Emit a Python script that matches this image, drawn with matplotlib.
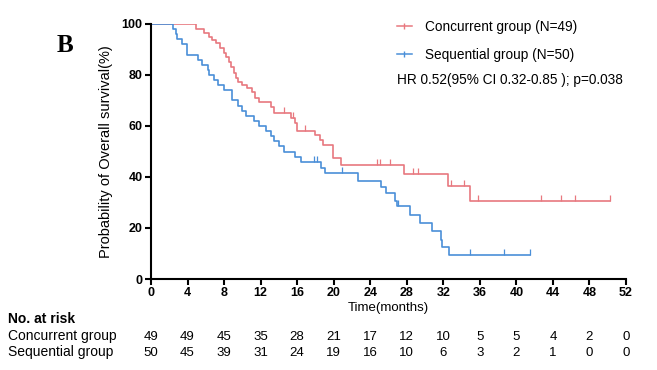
import numpy as np
import matplotlib
matplotlib.use('Agg')
import matplotlib.pyplot as plt
from matplotlib.lines import Line2D
from matplotlib import transforms

plt.rcParams['font.family'] = ['Liberation Sans', 'DejaVu Sans']

# Kaplan-Meier steps (months, survival %)
conc_times = [0, 4.9, 5.8, 6.3, 6.7, 7.1, 7.6, 8.0, 8.2, 8.5, 8.8, 9.1, 9.3, 9.5,
              10.0, 10.5, 11.1, 11.4, 11.8, 13.1, 13.5, 15.3, 15.8, 16.0, 18.0,
              18.5, 18.8, 19.9, 20.8, 27.7, 32.5, 34.9, 50.2]
conc_surv = [100, 97.9, 96.6, 95.0, 93.7, 92.4, 90.5, 88.5, 87.2, 85.2, 83.3, 80.7,
             78.7, 77.4, 76.1, 74.8, 73.5, 70.9, 69.5, 67.6, 65.0, 63.3, 61.0, 58.0,
             56.5, 54.5, 52.5, 47.3, 44.7, 41.0, 36.5, 30.5, 30.5]
conc_censor = [14.6, 15.5, 16.9, 24.7, 25.1, 26.2, 28.7, 29.2, 32.8, 34.3,
               35.8, 42.7, 44.9, 46.4, 50.2]

seq_times = [0, 2.4, 2.7, 2.9, 3.4, 3.9, 5.1, 5.6, 6.2, 6.4, 6.9, 7.3, 8.0, 8.9,
             9.5, 10.0, 10.4, 11.3, 11.8, 12.6, 13.1, 13.5, 14.0, 14.6, 15.8, 16.4,
             18.6, 19.1, 22.7, 25.2, 25.7, 26.7, 26.9, 28.3, 29.4, 30.8, 31.8, 31.9,
             32.6, 41.5]
seq_surv = [100, 98, 96, 94, 92, 88, 86, 84, 82, 80, 78, 76, 74, 70, 68, 66, 64, 62,
            60, 58, 56, 54, 52, 50, 48, 46, 43.4, 41.4, 38.6, 36.0, 33.6, 30.7, 28.6,
            25.1, 22.1, 19.0, 15.3, 12.7, 9.4, 9.4]
seq_censor = [17.8, 18.2, 20.9, 27.0, 34.9, 38.6, 41.5]

# numbers at risk
risk_times = [0, 4, 8, 12, 16, 20, 24, 28, 32, 36, 40, 44, 48, 52]
risk_conc = [49, 49, 45, 35, 28, 21, 17, 12, 10, 5, 5, 4, 2, 0]
risk_seq = [50, 45, 39, 31, 24, 19, 16, 10, 6, 3, 2, 1, 0, 0]

red = '#E8787F'
blue = '#4A8FD8'


def surv_at(times, surv, t):
    # value of the step function at time t
    idx = np.searchsorted(times, t, side='right') - 1
    return np.array(surv)[idx]


fig = plt.figure(figsize=(6.57, 3.70), dpi=100)
ax = fig.add_axes([151 / 657, 1 - 279 / 370, 475 / 657, 255 / 370])

for times, surv, cens, color in [(conc_times, conc_surv, conc_censor, red),
                                 (seq_times, seq_surv, seq_censor, blue)]:
    ax.step(times, surv, where='post', color=color, lw=1.2)
    ax.plot(cens, surv_at(times, surv, cens), ls='none', marker=2,
            ms=4, mew=0.9, color=color)

ax.set_xlim(0, 52)
ax.set_ylim(0, 100)
ax.set_xticks(risk_times)
ax.set_yticks([0, 20, 40, 60, 80, 100])
ax.spines['top'].set_visible(False)
ax.spines['right'].set_visible(False)
for s in ['left', 'bottom']:
    ax.spines[s].set_linewidth(1.5)
ax.tick_params(width=1.5, length=4, labelsize=9, pad=2)
for lab in ax.get_xticklabels() + ax.get_yticklabels():
    lab.set_fontweight('bold')

ax.set_xlabel('Time(months)', fontsize=9.5)
ax.xaxis.set_label_coords(0.5, -0.092)
ax.set_ylabel('Probability of Overall survival(%)', fontsize=10.5)
ax.yaxis.set_label_coords(-0.08, 0.5)

# legend
handles = [Line2D([], [], color=red, lw=1.1, marker='|', ms=5),
           Line2D([], [], color=blue, lw=1.1, marker='|', ms=5)]
ax.legend(handles, ['Concurrent group (N=49)', 'Sequential group (N=50)'],
          loc='upper left', bbox_to_anchor=(397 / 657, 1 - 20 / 370),
          bbox_transform=fig.transFigure, frameon=False, fontsize=9.8,
          handlelength=1.1, handletextpad=0.95, labelspacing=1.0,
          borderpad=0, borderaxespad=0)
fig.text(397 / 657, 1 - 80 / 370, 'HR 0.52(95% CI 0.32-0.85 ); p=0.038',
         fontsize=9.8, va='center', ha='left')

fig.text(57 / 657, 1 - 46 / 370, 'B', family='Liberation Serif',
         fontweight='bold', fontsize=18, va='center', ha='left')

# risk table
fig.text(8 / 657, 1 - 319 / 370, 'No. at risk', fontweight='bold',
         fontsize=10, va='center')
fig.text(8 / 657, 1 - 336 / 370, 'Concurrent group', fontsize=10, va='center')
fig.text(8 / 657, 1 - 352 / 370, 'Sequential group', fontsize=10, va='center')
trans = transforms.blended_transform_factory(ax.transData, fig.transFigure)
for t, a, b in zip(risk_times, risk_conc, risk_seq):
    ax.text(t, 1 - 337 / 370, str(a), transform=trans, ha='center',
            va='center', fontsize=9.5, clip_on=False)
    ax.text(t, 1 - 353 / 370, str(b), transform=trans, ha='center',
            va='center', fontsize=9.5, clip_on=False)

fig.savefig('out.png', dpi=100)
